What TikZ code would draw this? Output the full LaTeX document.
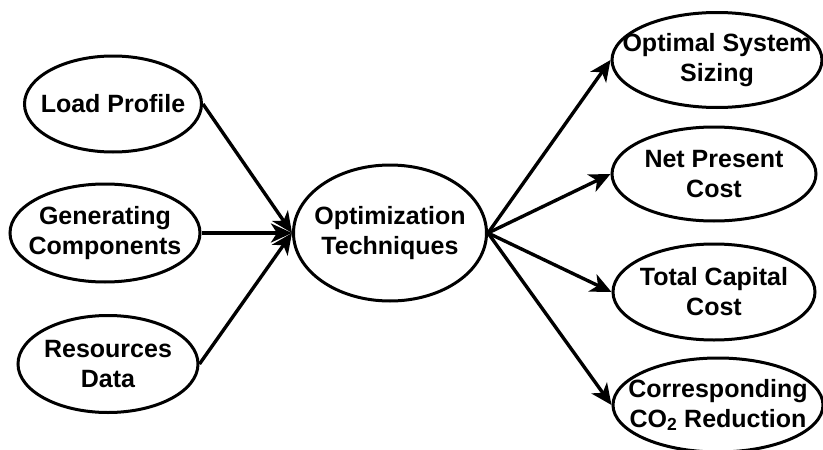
\documentclass[tikz,border=0pt]{standalone}
\usepackage{fontspec}
\setmainfont{Liberation Sans}
\usetikzlibrary{shapes.geometric,arrows.meta}
\begin{document}
\begin{tikzpicture}[x=1pt,y=-1pt,
    oval/.style={ellipse,draw,line width=3pt,inner sep=0pt},
    txt/.style={align=center,inner sep=0pt,font=\fontsize{25}{30}\selectfont\bfseries},
    link/.style={line width=3.4pt,-{Stealth[length=21pt,width=19pt,inset=6pt]}}]
  \useasboundingbox (0,0) rectangle (823,450);
  % left side
  \node[oval,minimum width=177pt,minimum height=96pt] (load) at (113,104) {};
  \node[oval,minimum width=190pt,minimum height=98pt] (gen) at (105,233) {};
  \node[oval,minimum width=180pt,minimum height=97pt] (res) at (108,364) {};
  \node[txt] at (load) {Load Profile};
  \node[txt] at (gen) {Generating\\Components};
  \node[txt] at (res) {Resources\\Data};
  % middle
  \node[oval,minimum width=193pt,minimum height=136pt] (opt) at (390,233) {};
  \node[txt] at (opt) {Optimization\\Techniques};
  % right side
  \node[oval,minimum width=210pt,minimum height=95pt] (size) at (717,60) {};
  \node[oval,minimum width=204pt,minimum height=94pt] (npc) at (714,174) {};
  \node[oval,minimum width=202pt,minimum height=96pt] (tcc) at (714,292) {};
  \node[oval,minimum width=210pt,minimum height=94pt] (co2) at (718,405) {};
  \node[txt] at (size) {Optimal System\\Sizing};
  \node[txt] at (npc) {Net Present\\Cost};
  \node[txt] at (tcc) {Total Capital\\Cost};
  \node[txt] at (co2) {Corresponding\\CO\textsubscript{2} Reduction};
  \begin{scope}[link]
    \draw (load.east) to (opt.west);
    \draw (gen.east) to (opt.west);
    \draw (res.east) to (opt.west);
    \draw (opt.east) to (size.west);
    \draw (opt.east) to (npc.west);
    \draw (opt.east) to (tcc.west);
    \draw (opt.east) to (co2.west);
  \end{scope}
\end{tikzpicture}
\end{document}
